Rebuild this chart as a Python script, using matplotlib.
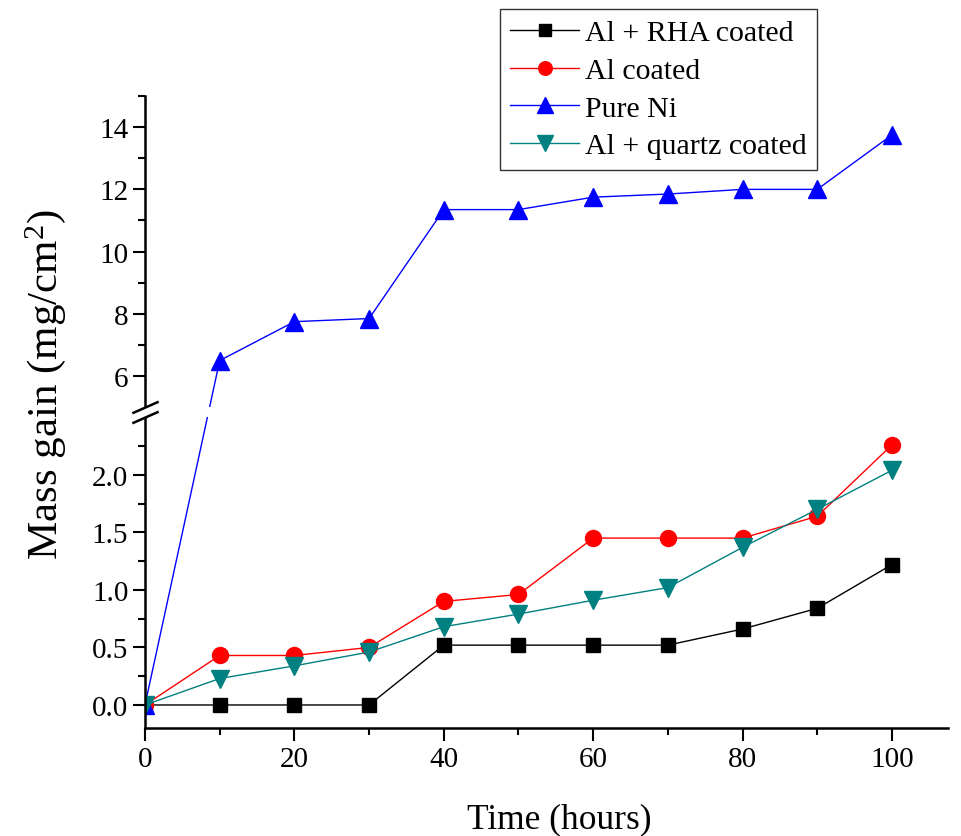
import numpy as np
import matplotlib
matplotlib.use("Agg")
import matplotlib.pyplot as plt
from matplotlib.ticker import FixedLocator
from matplotlib.path import Path

plt.rcParams['font.family'] = ['Liberation Serif', 'DejaVu Serif']
plt.rcParams['mathtext.fontset'] = 'custom'
plt.rcParams['mathtext.rm'] = 'Liberation Serif'
plt.rcParams['mathtext.it'] = 'Liberation Serif:italic'

# ---- data ----
time_h = [0, 10, 20, 30, 40, 50, 60, 70, 80, 90, 100]
al_rha = [0, 0, 0, 0, 0.52, 0.52, 0.52, 0.52, 0.66, 0.84, 1.22]
al_coated = [0, 0.43, 0.43, 0.50, 0.90, 0.96, 1.45, 1.45, 1.45, 1.64, 2.26]
pure_ni = [0, 6.5, 7.75, 7.85, 11.35, 11.35, 11.75, 11.85, 12.0, 12.0, 13.75]
al_quartz = [0, 0.23, 0.34, 0.46, 0.68, 0.79, 0.91, 1.02, 1.37, 1.70, 2.04]
labels = ['Al + RHA coated', 'Al coated', 'Pure Ni', 'Al + quartz coated']
x_major = [0, 20, 40, 60, 80, 100]
x_minor = [10, 30, 50, 70, 90]
y_major = [0.0, 0.5, 1.0, 1.5, 2.0, 6, 8, 10, 12, 14]
y_minor = [0.25, 0.75, 1.25, 1.75, 2.25, 7, 9, 11, 13, 15]

# ---- broken y scale ----
B1, B2 = 2.5, 5.0       # break from B1 to B2
G = 0.087               # gap size (lower-axis units)
K = 31.1 / 115.0        # upper scale relative to lower


def fwd(y):
    y = np.asarray(y, dtype=float)
    return np.where(y <= B1, y,
                    np.where(y >= B2, B1 + G + (y - B2) * K,
                             B1 + (y - B1) * G / (B2 - B1)))


def inv(f):
    f = np.asarray(f, dtype=float)
    return np.where(f <= B1, f,
                    np.where(f >= B1 + G, B2 + (f - B1 - G) / K,
                             B1 + (f - B1) * (B2 - B1) / G))


fig = plt.figure(figsize=(9.61, 8.37), dpi=100)
ax = fig.add_axes([145 / 961, 1 - 729 / 837, (948 - 145) / 961, (729 - 97) / 837])
ax.set_yscale('function', functions=(fwd, inv))

lw = 1.0
ax.plot(time_h, al_rha, color='black', lw=lw, marker='s', ms=10, label=labels[0])
ax.plot(time_h, al_coated, color='#ff0000', lw=lw, marker='o', ms=11.5, label=labels[1])
ax.plot(time_h, pure_ni, color='#0000ff', lw=lw, marker='^', ms=13, label=labels[2])
ax.plot(time_h, al_quartz, color='#008080', lw=lw, marker='v', ms=13, label=labels[3])

ax.set_xlim(0, 107.5)
ax.set_ylim(-0.2, 15)

ax.xaxis.set_major_locator(FixedLocator(x_major))
ax.xaxis.set_minor_locator(FixedLocator(x_minor))
ax.yaxis.set_major_locator(FixedLocator(y_major))
ax.yaxis.set_minor_locator(FixedLocator(y_minor))


def yfmt(v, pos):
    return f"{v:.1f}" if v < 3 else f"{v:.0f}"


ax.yaxis.set_major_formatter(plt.FuncFormatter(yfmt))

for s in ['top', 'right']:
    ax.spines[s].set_visible(False)
for s in ['left', 'bottom']:
    ax.spines[s].set_linewidth(1.8)

ax.tick_params(which='major', direction='out', length=9, width=1.5, labelsize=21, pad=4)
ax.tick_params(which='minor', direction='out', length=5, width=1.5)
ax.tick_params(axis='y', which='major', pad=3)

# break: white band and slanted marks
ytr = ax.get_yaxis_transform()
band = plt.Rectangle((-0.01, B1), 1.02, B2 - B1, transform=ytr, facecolor='white',
                     edgecolor='none', zorder=5, clip_on=False)
ax.add_patch(band)
slash = Path([(-1, -0.44), (1, 0.44)], [Path.MOVETO, Path.LINETO])
ax.plot([0, 0], [B1, B2], transform=ytr, linestyle='none', marker=slash, ms=19,
        mec='black', mew=1.8, clip_on=False, zorder=6)

leg = ax.legend(loc='upper left', bbox_to_anchor=(500 / 961, 1 - 10 / 837),
                bbox_transform=fig.transFigure, fontsize=21.5, frameon=True,
                fancybox=False, edgecolor='black', handlelength=2.3,
                labelspacing=0.36, borderpad=0.35, handletextpad=0.2,
                borderaxespad=0, markerscale=0.85)
leg.get_frame().set_linewidth(1.0)

fig.text(559 / 961, 1 - 828 / 837, 'Time (hours)', ha='center', va='baseline', fontsize=25.5)
fig.text(46 / 961, 1 - 385 / 837, 'Mass gain (mg/cm$^2$)', ha='center', va='center',
         rotation=90, fontsize=31)

fig.savefig('out.png', dpi=100)
